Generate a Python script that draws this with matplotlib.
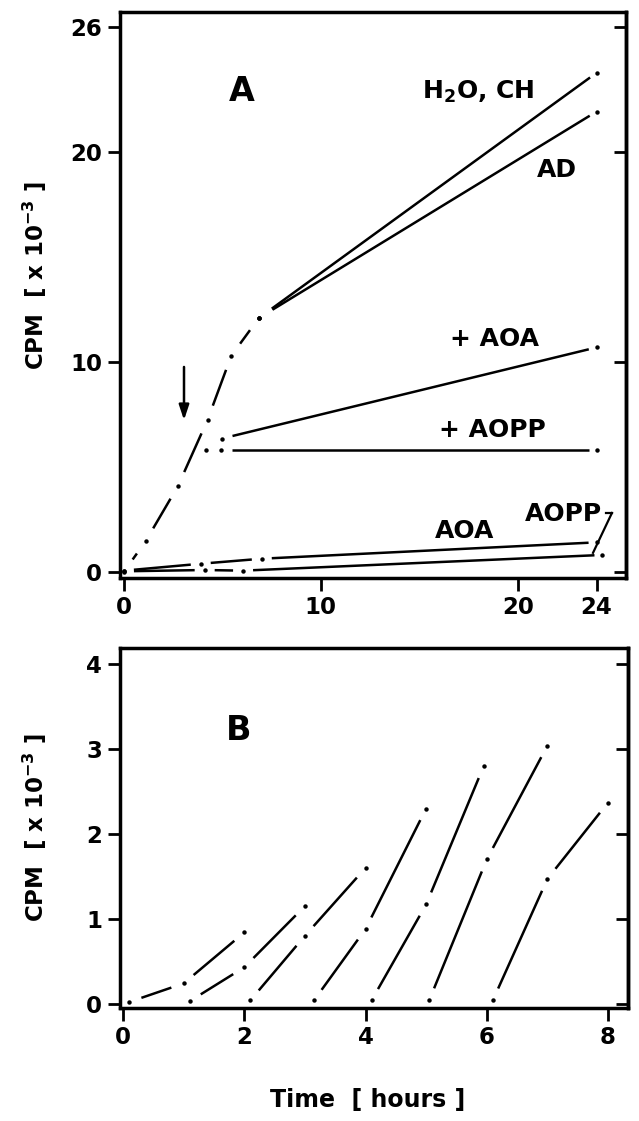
import numpy as np
import matplotlib.pyplot as plt

plt.rcParams['font.family'] = ['DejaVu Sans']
plt.rcParams['font.weight'] = 'bold'
plt.rcParams['mathtext.default'] = 'bf'

# ---- panel A (time in hours, CPM x 10^-3)
main_t = [0, 1.1, 2.75, 4.25, 5.45, 6.85]
main_cpm = [0, 1.45, 4.1, 7.25, 10.3, 12.1]
h2o_t = [6.85, 24]
h2o_cpm = [12.1, 23.8]
ad_t = [6.85, 24]
ad_cpm = [12.1, 21.95]
plus_aoa_t = [4.97, 24]
plus_aoa_cpm = [6.35, 10.7]
plus_aopp_t = [4.15, 4.93, 24]
plus_aopp_cpm = [5.8, 5.8, 5.8]
aoa_t = [0, 3.9, 7.0, 24]
aoa_cpm = [0.05, 0.38, 0.62, 1.4]
aopp_t = [0, 4.1, 6.05, 24.3]
aopp_cpm = [0.02, 0.08, 0.05, 0.8]

# ---- panel B: pulses started each hour
b_t = [[0.1, 1.0, 2.0], [1.1, 2.0, 3.0], [2.1, 3.0, 4.0], [3.15, 4.0, 5.0],
       [4.1, 5.0, 5.95], [5.05, 6.0, 7.0], [6.1, 7.0, 8.0]]
b_cpm = [[0.02, 0.24, 0.84], [0.03, 0.43, 1.15], [0.04, 0.8, 1.6], [0.04, 0.88, 2.3],
         [0.04, 1.17, 2.8], [0.04, 1.7, 3.04], [0.04, 1.47, 2.37]]


def gapped(ax, t, y, gap, end_gap=None, lw=1.8):
    # line segments stop short of each point, point drawn as a dot
    if end_gap is None:
        end_gap = gap
    tr = ax.transData
    pts = tr.transform(np.column_stack([t, y]))
    back = tr.inverted()
    n = len(pts) - 1
    for i, (p, q) in enumerate(zip(pts[:-1], pts[1:])):
        g2 = end_gap if i == n - 1 else gap
        L = np.hypot(*(q - p))
        if L <= gap + g2:
            continue
        u = (q - p) / L
        seg = back.transform(np.array([p + gap * u, q - g2 * u]))
        ax.plot(seg[:, 0], seg[:, 1], color='black', lw=lw, solid_capstyle='butt')
    ax.plot(t, y, 'o', color='black', ms=3.2, mew=0)


def frame(ax, yticks):
    for s in ax.spines.values():
        s.set_linewidth(2.5)
    ax.tick_params(direction='out', length=9, width=2, labelsize=16.5, pad=4)
    sec = ax.secondary_yaxis('right')
    sec.set_yticks(yticks)
    sec.tick_params(direction='in', length=9, width=2, labelright=False)
    sec.spines['right'].set_linewidth(2.5)


fig = plt.figure(figsize=(6.39, 11.21), dpi=100)

# ---------------- A
ax1 = fig.add_axes([0.1878, 0.4844, 0.792, 0.5049])
ax1.set_xlim(-0.2, 25.5)
ax1.set_ylim(-0.3, 26.7)
ax1.set_xticks([0, 10, 20, 24])
ax1.set_yticks([0, 10, 20, 26])
frame(ax1, [0, 10, 20, 26])

gapped(ax1, main_t, main_cpm, 15)
gapped(ax1, h2o_t, h2o_cpm, 16, 8)
gapped(ax1, ad_t, ad_cpm, 16, 8)
gapped(ax1, plus_aoa_t, plus_aoa_cpm, 11, 8)
gapped(ax1, plus_aopp_t, plus_aopp_cpm, 11, 8)
gapped(ax1, aoa_t, aoa_cpm, 10, 8)
gapped(ax1, aopp_t, aopp_cpm, 10, 8)

ax1.annotate('', xy=(3.05, 7.1), xytext=(3.05, 9.9),
             arrowprops=dict(arrowstyle='-|>,head_length=0.9,head_width=0.3',
                             lw=1.8, color='black'))

ax1.text(6.0, 22.9, 'A', fontsize=24, ha='center', va='center')
ax1.text(18.0, 22.9, 'H$_2$O, CH', fontsize=18, ha='center', va='center')
ax1.text(22.0, 19.15, 'AD', fontsize=18, ha='center', va='center')
ax1.text(18.8, 11.1, '+ AOA', fontsize=18, ha='center', va='center')
ax1.text(18.7, 6.75, '+ AOPP', fontsize=18, ha='center', va='center')
ax1.text(17.3, 1.95, 'AOA', fontsize=18, ha='center', va='center')
ax1.text(22.3, 2.75, 'AOPP', fontsize=18, ha='center', va='center')
# leader from the AOPP label to its curve
ax1.plot([23.82, 24.78], [0.9, 2.8], color='black', lw=1.6)
ax1.plot([24.5, 24.8], [2.8, 2.8], color='black', lw=1.6)

# ---------------- B
ax2 = fig.add_axes([0.1878, 0.1008, 0.795, 0.3211])
ax2.set_xlim(-0.05, 8.33)
ax2.set_ylim(-0.05, 4.19)
ax2.set_xticks([0, 2, 4, 6, 8])
ax2.set_yticks([0, 1, 2, 3, 4])
frame(ax2, [0, 1, 2, 3, 4])

for t, c in zip(b_t, b_cpm):
    gapped(ax2, t, c, 13)

ax2.text(1.9, 3.22, 'B', fontsize=24, ha='center', va='center')

fig.text(0.055, 0.754, 'CPM  [ x 10$^{-3}$ ]', rotation=90, fontsize=16.5,
         ha='center', va='center')
fig.text(0.055, 0.262, 'CPM  [ x 10$^{-3}$ ]', rotation=90, fontsize=16.5,
         ha='center', va='center')
fig.text(0.576, 0.019, 'Time  [ hours ]', fontsize=17, ha='center', va='center')

fig.savefig('out.png', dpi=100)
